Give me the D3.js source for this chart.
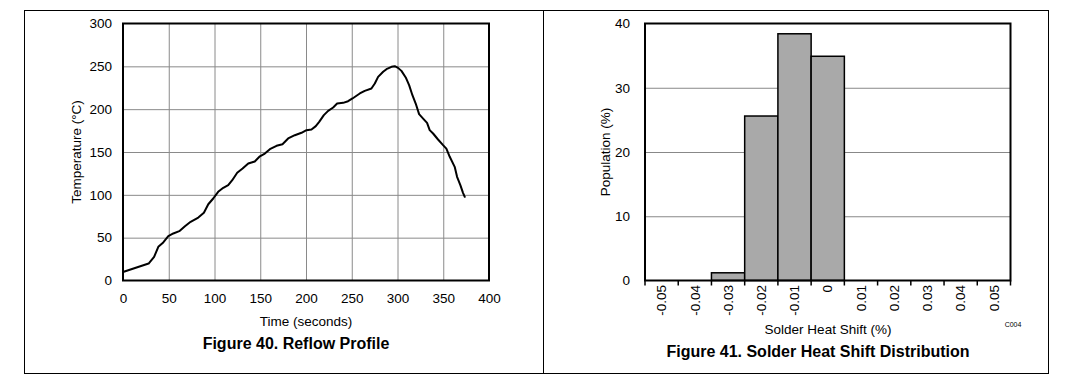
<!DOCTYPE html>
<html>
<head>
<meta charset="utf-8">
<script src="https://cdn.jsdelivr.net/npm/d3@7"></script>
<style>
  html, body { margin: 0; padding: 0; background: #fff; }
  svg { display: block; font-family: "Liberation Sans", Arial, sans-serif; }
</style>
</head>
<body>
<svg id="chart" width="1080" height="385"></svg>
<script>
// ---- Figure 40 data ----
const reflowTime = [0, 28, 34, 38.6, 44, 49.5, 55, 61.5, 67.7, 73.9, 82.3, 88.4, 93.2, 98.6, 104, 109.6, 115, 119.4, 124.8, 130.7, 136.9, 144, 149.6, 155, 160.5, 167.8, 174.3, 180.5, 187.8, 195.1, 200.5, 206, 210.7, 214.4, 219.5, 224.2, 229.7, 234, 240.6, 246, 250.8, 258.8, 264.2, 271.5, 275.2, 278.8, 284.3, 287.9, 293.4, 297, 300.6, 304.3, 309, 312.7, 316.3, 319.9, 323.6, 328, 332.3, 335.2, 338.9, 344.3, 349.8, 353.4, 357.1, 362.5, 365.1, 368.7, 371.6, 373.5];
const reflowTemp = [10, 19.8, 27.6, 39.3, 44.4, 51.8, 54.9, 57.6, 63.4, 68.5, 73.5, 79, 89, 95.7, 103.5, 108.2, 111.3, 117.1, 125.7, 130.7, 136.6, 139, 145, 148.2, 153.3, 157.2, 159.1, 165.8, 169.6, 172.4, 175.5, 176.3, 180.2, 185.2, 193, 198, 202, 206.6, 207.4, 209.3, 212.5, 218.3, 221.4, 224.1, 230, 237.7, 243.6, 246.7, 249.4, 250.2, 248.2, 244.7, 237, 228, 216.3, 206.6, 194.2, 189, 184, 175.5, 171.6, 164.6, 158, 154, 144.4, 132.7, 121, 111.3, 102.3, 97.7];
const timeTicks = [0, 50, 100, 150, 200, 250, 300, 350, 400];
const tempTicks = [0, 50, 100, 150, 200, 250, 300];

// ---- Figure 41 data ----
const shiftCategories = ["-0.05", "-0.04", "-0.03", "-0.02", "-0.01", "0", "0.01", "0.02", "0.03", "0.04", "0.05"];
const populationPct = [0, 0, 1.2, 25.6, 38.4, 34.9, 0, 0, 0, 0, 0];
const populationTicks = [0, 10, 20, 30, 40];

const svg = d3.select("#chart");
const FONT = 13.5;

// Outer frame + divider
svg.append("rect").attr("x", 24.5).attr("y", 10.5).attr("width", 1024).attr("height", 363)
  .attr("fill", "none").attr("stroke", "#000").attr("stroke-width", 1);
svg.append("line").attr("x1", 543.5).attr("x2", 543.5).attr("y1", 10.5).attr("y2", 373.5)
  .attr("stroke", "#000").attr("stroke-width", 1);

// ================= Figure 40 =================
{
  const L = 123, R = 489, T = 23.5, B = 280.5;
  const x = d3.scaleLinear().domain([0, 400]).range([L, R]);
  const y = d3.scaleLinear().domain([0, 300]).range([B, T]);
  const g = svg.append("g");

  // grid
  const gx = g.append("g").attr("transform", `translate(0,${B})`)
    .call(d3.axisBottom(x).tickValues(timeTicks.slice(1, -1)).tickSize(-(B - T)).tickFormat(""));
  gx.select(".domain").remove();
  gx.selectAll("line").attr("stroke", "#8a8a8a").attr("stroke-width", 1);
  const gy = g.append("g").attr("transform", `translate(${L},0)`)
    .call(d3.axisLeft(y).tickValues(tempTicks.slice(1, -1)).tickSize(-(R - L)).tickFormat(""));
  gy.select(".domain").remove();
  gy.selectAll("line").attr("stroke", "#8a8a8a").attr("stroke-width", 1);

  // line
  const pts = reflowTime.map((t, i) => [t, reflowTemp[i]]);
  g.append("path").datum(pts)
    .attr("fill", "none").attr("stroke", "#000").attr("stroke-width", 2)
    .attr("stroke-linejoin", "round").attr("stroke-linecap", "round")
    .attr("d", d3.line().x(d => x(d[0])).y(d => y(d[1])));

  // border
  g.append("rect").attr("x", L).attr("y", T).attr("width", R - L).attr("height", B - T)
    .attr("fill", "none").attr("stroke", "#000").attr("stroke-width", 2);

  // tick labels
  const ax = g.append("g").attr("transform", `translate(0,${B})`)
    .call(d3.axisBottom(x).tickValues(timeTicks).tickSize(0).tickPadding(13).tickFormat(d3.format("d")));
  ax.select(".domain").remove();
  ax.selectAll("text").attr("font-size", FONT).attr("font-family", null).attr("fill", "#000");
  const ay = g.append("g").attr("transform", `translate(${L},0)`)
    .call(d3.axisLeft(y).tickValues(tempTicks).tickSize(0).tickPadding(11).tickFormat(d3.format("d")));
  ay.select(".domain").remove();
  ay.selectAll("text").attr("font-size", FONT).attr("font-family", null).attr("fill", "#000");

  // titles
  g.append("text").attr("x", (L + R) / 2).attr("y", 326).attr("text-anchor", "middle")
    .attr("font-size", FONT).text("Time (seconds)");
  g.append("text").attr("transform", `translate(81,${(T + B) / 2}) rotate(-90)`)
    .attr("text-anchor", "middle").attr("font-size", FONT).text("Temperature (°C)");
  g.append("text").attr("x", 296).attr("y", 349).attr("text-anchor", "middle")
    .attr("font-size", 16).attr("font-weight", "bold").text("Figure 40. Reflow Profile");
}

// ================= Figure 41 =================
{
  const L = 645, R = 1010.5, T = 23.5, B = 280.5;
  const x = d3.scaleBand().domain(shiftCategories).range([L, R]).padding(0);
  const y = d3.scaleLinear().domain([0, 40]).range([B, T]);
  const g = svg.append("g");

  // grid
  const gy = g.append("g").attr("transform", `translate(${L},0)`)
    .call(d3.axisLeft(y).tickValues(populationTicks.slice(1, -1)).tickSize(-(R - L)).tickFormat(""));
  gy.select(".domain").remove();
  gy.selectAll("line").attr("stroke", "#6a6a6a").attr("stroke-width", 0.8);

  // bars
  g.selectAll("rect.bar").data(shiftCategories).join("rect").attr("class", "bar")
    .attr("x", d => x(d)).attr("width", x.bandwidth())
    .attr("y", (d, i) => y(populationPct[i]))
    .attr("height", (d, i) => B - y(populationPct[i]))
    .attr("fill", "#a9a9a9").attr("stroke", "#000").attr("stroke-width", 1.5);

  // border
  g.append("rect").attr("x", L).attr("y", T).attr("width", R - L).attr("height", B - T)
    .attr("fill", "none").attr("stroke", "#000").attr("stroke-width", 2);

  // tick marks at band edges
  const edges = shiftCategories.map(c => x(c)).concat([R]);
  g.selectAll("line.tk").data(edges).join("line").attr("class", "tk")
    .attr("x1", d => d).attr("x2", d => d).attr("y1", B).attr("y2", B + 5)
    .attr("stroke", "#000").attr("stroke-width", 1.5);

  // rotated category labels
  g.selectAll("text.cat").data(shiftCategories).join("text").attr("class", "cat")
    .attr("transform", d => `translate(${x(d) + x.bandwidth() / 2},285) rotate(-90)`)
    .attr("text-anchor", "end").attr("dy", "0.35em").attr("font-size", FONT).text(d => d);

  // y tick labels
  const ay = g.append("g").attr("transform", `translate(${L},0)`)
    .call(d3.axisLeft(y).tickValues(populationTicks).tickSize(0).tickPadding(15).tickFormat(d3.format("d")));
  ay.select(".domain").remove();
  ay.selectAll("text").attr("font-size", FONT).attr("font-family", null).attr("fill", "#000");

  // titles
  g.append("text").attr("x", 828).attr("y", 334).attr("text-anchor", "middle")
    .attr("font-size", FONT).text("Solder Heat Shift (%)");
  g.append("text").attr("x", 1013).attr("y", 327).attr("text-anchor", "middle")
    .attr("font-size", 7).text("C004");
  g.append("text").attr("transform", `translate(610,${(T + B) / 2}) rotate(-90)`)
    .attr("text-anchor", "middle").attr("font-size", FONT).text("Population (%)");
  g.append("text").attr("x", 818).attr("y", 357).attr("text-anchor", "middle")
    .attr("font-size", 16).attr("font-weight", "bold").text("Figure 41. Solder Heat Shift Distribution");
}
</script>
</body>
</html>
